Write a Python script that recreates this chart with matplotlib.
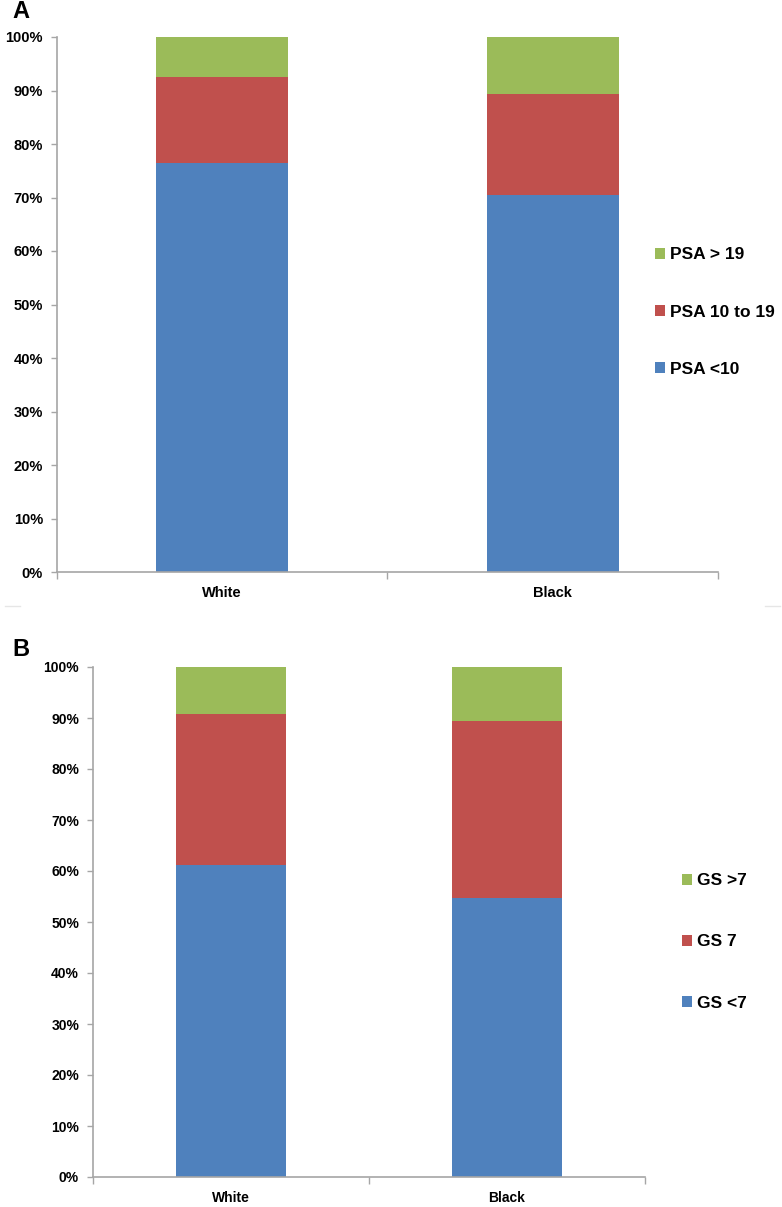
import matplotlib.pyplot as plt
import numpy as np

# --- data (percent of patients) ---
categories = ["White", "Black"]

psa_labels = ["PSA <10", "PSA 10 to 19", "PSA > 19"]
psa_lt10 = [76.4, 70.4]
psa_10_19 = [16.1, 18.9]
psa_gt19 = [7.5, 10.7]

gs_labels = ["GS <7", "GS 7", "GS >7"]
gs_lt7 = [61.2, 54.7]
gs_7 = [29.6, 34.7]
gs_gt7 = [9.2, 10.6]

colors = ["#4F81BD", "#C0504D", "#9BBB59"]
spine_color = "#A6A6A6"

plt.rcParams["font.family"] = ["Liberation Sans", "DejaVu Sans"]
plt.rcParams["font.weight"] = "bold"

W, H = 782, 1207
fig = plt.figure(figsize=(W / 100, H / 100), dpi=100)


def px_axes(left, top, right, bottom):
    # axes placed in pixel coordinates (top-left origin)
    return fig.add_axes([left / W, 1 - bottom / H, (right - left) / W, (bottom - top) / H])


def stacked_panel(ax, series, labels, tick_size, legend_x, legend_y, spacing):
    x = np.arange(len(categories))
    bottom = np.zeros(len(categories))
    handles = []
    for vals, lab, col in zip(series, labels, colors):
        bars = ax.bar(x, vals, width=0.4, bottom=bottom, color=col, label=lab, zorder=2)
        handles.append(bars)
        bottom += np.array(vals)

    ax.set_xlim(-0.5, len(categories) - 0.5)
    ax.set_ylim(0, 100)
    ax.set_yticks(np.arange(0, 101, 10))
    ax.set_yticklabels([f"{v}%" for v in range(0, 101, 10)])
    ax.set_xticks(x)
    ax.set_xticklabels(categories)
    ax.set_xticks(np.arange(-0.5, len(categories), 1.0), minor=True)

    for side in ["top", "right"]:
        ax.spines[side].set_visible(False)
    for side in ["left", "bottom"]:
        ax.spines[side].set_color(spine_color)
        ax.spines[side].set_linewidth(1.2)

    ax.tick_params(axis="y", length=4, width=1, color=spine_color, pad=6,
                   labelsize=tick_size)
    ax.tick_params(axis="x", which="major", length=0, pad=10, labelsize=tick_size)
    ax.tick_params(axis="x", which="minor", length=5, width=1, color=spine_color)
    for t in ax.get_xticklabels() + ax.get_yticklabels():
        t.set_fontweight("bold")

    ax.legend(handles[::-1], labels[::-1], loc="center left",
              bbox_to_anchor=(legend_x / W, 1 - legend_y / H),
              bbox_transform=fig.transFigure, frameon=False,
              handlelength=0.6, handleheight=0.6,
              handletextpad=0.25, labelspacing=spacing, borderpad=0,
              borderaxespad=0, prop={"weight": "bold", "size": 12.5})


# --- panel A: PSA ---
ax_a = px_axes(57, 37, 718, 572)
stacked_panel(ax_a, [psa_lt10, psa_10_19, psa_gt19], psa_labels, 10.5, 655, 312, 2.42)
fig.text(12 / W, 1 - 12 / H, "A", fontsize=17, fontweight="bold", va="center", ha="left")

# faint border remnants under panel A
fig.add_artist(plt.Line2D([5 / W, 20 / W], [1 - 606 / H] * 2, color="#E6E6E6", lw=1))
fig.add_artist(plt.Line2D([765 / W, 780 / W], [1 - 606 / H] * 2, color="#E6E6E6", lw=1))

# --- panel B: Gleason score ---
ax_b = px_axes(93, 667, 645, 1177)
stacked_panel(ax_b, [gs_lt7, gs_7, gs_gt7], gs_labels, 10, 682, 942, 2.66)
fig.text(12 / W, 1 - 650 / H, "B", fontsize=17, fontweight="bold", va="center", ha="left")

fig.savefig("out.png", dpi=100)
